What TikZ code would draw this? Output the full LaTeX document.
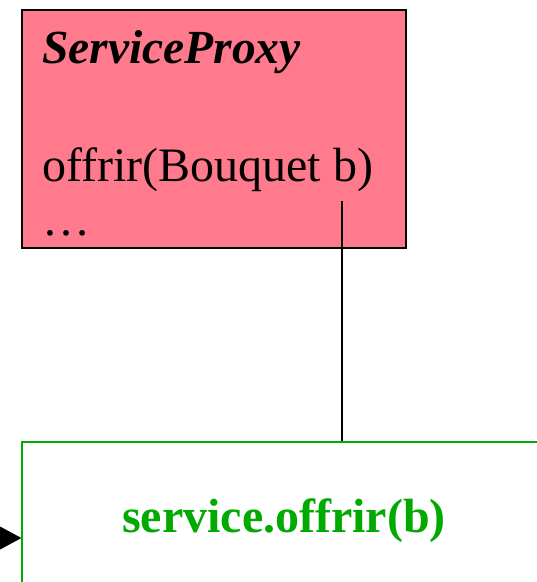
\documentclass[tikz,border=0pt]{standalone}
\usepackage{fontspec}
\setmainfont{Liberation Serif}
\usetikzlibrary{arrows.meta}
\definecolor{proxyfill}{HTML}{FF7A8C}
\definecolor{callgreen}{HTML}{00AA00}
\tikzset{
  classbox/.style={draw=black, line width=1.3pt, fill=proxyfill, rectangle, inner sep=0pt},
  callbox/.style={draw=callgreen, line width=1.2pt, fill=white, rectangle, inner sep=0pt},
  member/.style={anchor=base west, inner sep=0pt, font=\fontsize{48}{48}\selectfont},
  link/.style={draw=black, line width=1.2pt},
}
\begin{document}
\begin{tikzpicture}[x=1pt,y=-1pt]
  \useasboundingbox (0,0) rectangle (537,582);
  \begin{scope}
    \clip (0,0) rectangle (537,582);
    % class box
    \node[classbox, minimum width=384pt, minimum height=238pt] (proxy) at (214,129) {};
    \node[member, font=\fontsize{47.5}{48}\selectfont\bfseries\itshape] (pname) at (42,63) {ServiceProxy};
    \node[member] (pop) at (42,181) {offrir(Bouquet b)};
    \node[member] (pdots) at (42,235) {\dots};
    % note box with the forwarded call
    \node[callbox, minimum width=540pt, minimum height=160pt] (svc) at (292,522) {};
    \node[inner sep=0pt, anchor=base, text=callgreen, font=\fontsize{48}{48}\selectfont\bfseries] (call) at (284,532) {service.offrir(b)};
    % connectors
    \coordinate (anchorpt) at (342,201);
    \draw[link] (anchorpt) -- (anchorpt |- svc.north);
    \coordinate (msgstart) at (-40,538);
    \draw[link, -{Triangle[length=30pt,width=32pt]}] (msgstart) -- (msgstart -| svc.west);
  \end{scope}
\end{tikzpicture}
\end{document}
